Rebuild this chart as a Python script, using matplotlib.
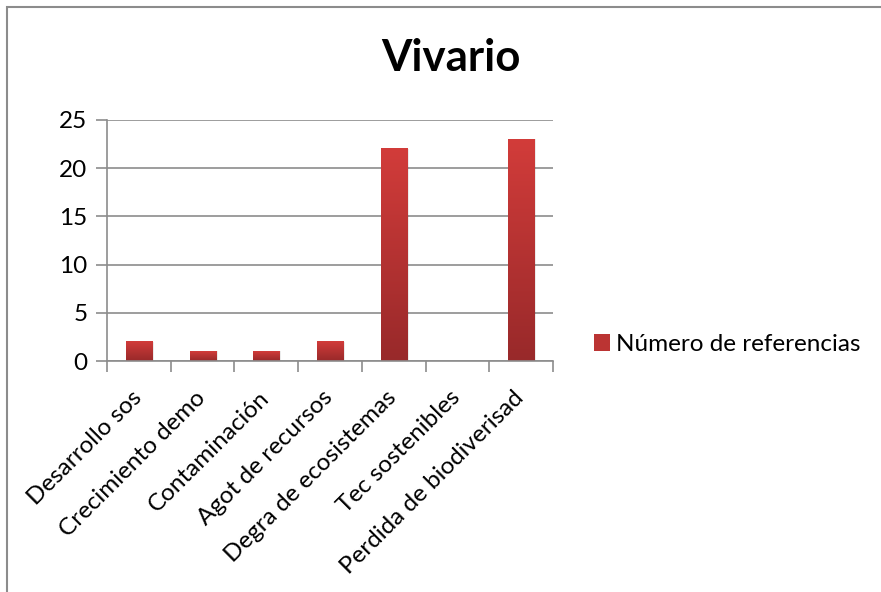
import numpy as np
import matplotlib.pyplot as plt
from matplotlib.patches import Rectangle
from matplotlib.colors import LinearSegmentedColormap
from matplotlib.transforms import ScaledTranslation

categorias = ['Desarrollo sos', 'Crecimiento demo', 'Contaminación', 'Agot de recursos',
              'Degra de ecosistemas', 'Tec sostenibles', 'Perdida de biodiverisad']
referencias = [2, 1, 1, 2, 22, 0, 23]
serie = 'Número de referencias'

plt.rcParams['font.family'] = ['Lato', 'DejaVu Sans']

gris = '#8c8c8c'
rojo_grad = LinearSegmentedColormap.from_list('rojo', ['#98292a', '#d23c3a'])

fig = plt.figure(figsize=(8.81, 5.92), dpi=100)
ax = fig.add_axes([0.1215, 0.3902, 0.5062, 0.4071])

x = np.arange(len(categorias))
barras = ax.bar(x, referencias, width=0.41, color='none', edgecolor='none', label=serie)

# relleno en degradado vertical para cada barra
grad = np.linspace(0, 1, 256).reshape(-1, 1)
for b in barras:
    x0, y0 = b.get_x(), b.get_y()
    w, h = b.get_width(), b.get_height()
    if h <= 0:
        continue
    # sombra suave
    ax.add_patch(Rectangle((x0 + 0.03, y0), w, h, facecolor='#000000', alpha=0.08,
                           edgecolor='none', zorder=1.5))
    ax.imshow(grad, extent=(x0, x0 + w, y0, y0 + h), origin='lower', cmap=rojo_grad,
              aspect='auto', zorder=2)

ax.set_xlim(-0.5, len(categorias) - 0.5)
ax.set_ylim(0, 25)
ax.set_yticks(range(0, 26, 5))
ax.yaxis.grid(True, color=gris, linewidth=1.2)
ax.set_axisbelow(True)

for s in ['top', 'right']:
    ax.spines[s].set_visible(False)
for s in ['left', 'bottom']:
    ax.spines[s].set_color(gris)
    ax.spines[s].set_linewidth(1.2)

ax.tick_params(axis='y', length=8, width=1.2, color=gris, labelsize=17.5, pad=6)
ax.set_xticks(x)
ax.set_xticklabels(categorias, rotation=45, ha='right', rotation_mode='anchor', fontsize=17.5)
ax.tick_params(axis='x', which='major', length=0, pad=15)
ax.set_xticks(np.arange(-0.5, len(categorias)), minor=True)
ax.tick_params(axis='x', which='minor', length=8, width=1.2, color=gris)

# desplazar las etiquetas giradas un poco a la izquierda y abajo
desp = ScaledTranslation(-8 / 100, -5 / 100, fig.dpi_scale_trans)
for lbl in ax.get_xticklabels():
    lbl.set_transform(lbl.get_transform() + desp)

fig.text(0.512, 0.902, 'Vivario', ha='center', va='center', fontsize=31.5, fontweight='bold')

handle = Rectangle((0, 0), 1, 1, facecolor='#bb3433', edgecolor='none')
fig.legend([handle], [serie], loc='center left', bbox_to_anchor=(0.674, 0.418),
           frameon=False, fontsize=17.5, handlelength=0.65, handleheight=0.65,
           handletextpad=0.25, borderaxespad=0, borderpad=0)

# marco del gráfico
fig.add_artist(Rectangle((7 / 881, -0.1), 1.1, 1 - 7 / 592 + 0.1, transform=fig.transFigure,
                         facecolor='none', edgecolor=gris, linewidth=1.5))

fig.savefig('out.png', dpi=100)
